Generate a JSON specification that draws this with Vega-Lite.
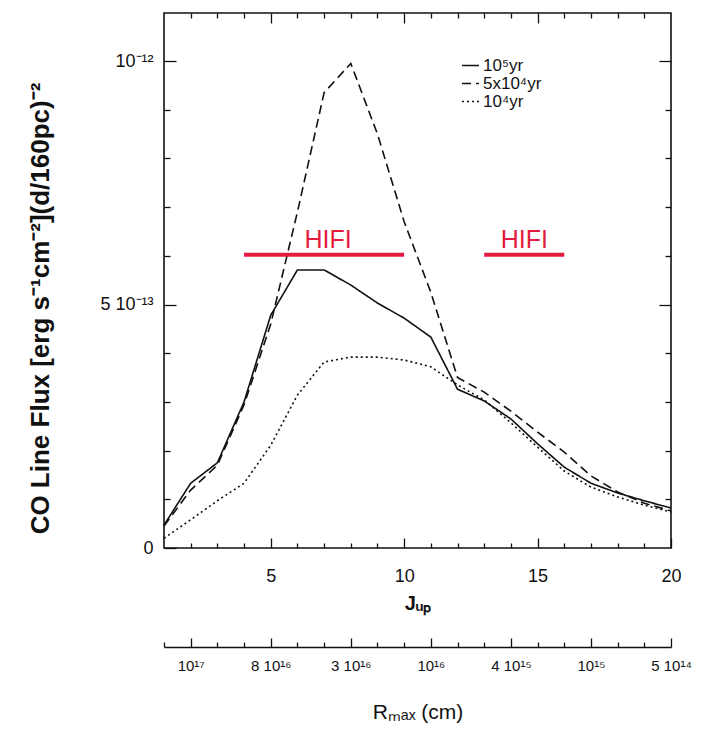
{
  "$schema": "https://vega.github.io/schema/vega-lite/v6.json",
  "width": 507,
  "height": 535,
  "autosize": "none",
  "padding": {"left": 164, "top": 13, "right": 35, "bottom": 181},
  "background": "white",
  "config": {
    "view": {"stroke": "#111", "strokeWidth": 1.6},
    "font": "Liberation Sans",
    "axis": {
      "labelFont": "Liberation Sans",
      "titleFont": "Liberation Sans",
      "labelColor": "#111",
      "titleColor": "#111",
      "tickColor": "#111",
      "tickWidth": 1.3,
      "domainColor": "#111",
      "grid": false,
      "labelOverlap": false,
      "labelFlush": false
    }
  },
  "datasets": {
    "curves": [
      {"J": 1, "flux": 4.7e-14, "model": "10⁵yr"},
      {"J": 2, "flux": 1.33e-13, "model": "10⁵yr"},
      {"J": 3, "flux": 1.75e-13, "model": "10⁵yr"},
      {"J": 4, "flux": 3.0e-13, "model": "10⁵yr"},
      {"J": 5, "flux": 4.78e-13, "model": "10⁵yr"},
      {"J": 6, "flux": 5.71e-13, "model": "10⁵yr"},
      {"J": 7, "flux": 5.71e-13, "model": "10⁵yr"},
      {"J": 8, "flux": 5.4e-13, "model": "10⁵yr"},
      {"J": 9, "flux": 5.03e-13, "model": "10⁵yr"},
      {"J": 10, "flux": 4.72e-13, "model": "10⁵yr"},
      {"J": 11, "flux": 4.33e-13, "model": "10⁵yr"},
      {"J": 12, "flux": 3.26e-13, "model": "10⁵yr"},
      {"J": 13, "flux": 3.02e-13, "model": "10⁵yr"},
      {"J": 14, "flux": 2.65e-13, "model": "10⁵yr"},
      {"J": 15, "flux": 2.14e-13, "model": "10⁵yr"},
      {"J": 16, "flux": 1.66e-13, "model": "10⁵yr"},
      {"J": 17, "flux": 1.33e-13, "model": "10⁵yr"},
      {"J": 18, "flux": 1.13e-13, "model": "10⁵yr"},
      {"J": 19, "flux": 9.7e-14, "model": "10⁵yr"},
      {"J": 20, "flux": 8.2e-14, "model": "10⁵yr"},
      {"J": 1, "flux": 4.5e-14, "model": "5x10⁴yr"},
      {"J": 2, "flux": 1.19e-13, "model": "5x10⁴yr"},
      {"J": 3, "flux": 1.7e-13, "model": "5x10⁴yr"},
      {"J": 4, "flux": 2.94e-13, "model": "5x10⁴yr"},
      {"J": 5, "flux": 4.6e-13, "model": "5x10⁴yr"},
      {"J": 6, "flux": 6.9e-13, "model": "5x10⁴yr"},
      {"J": 7, "flux": 9.35e-13, "model": "5x10⁴yr"},
      {"J": 8, "flux": 9.95e-13, "model": "5x10⁴yr"},
      {"J": 9, "flux": 8.5e-13, "model": "5x10⁴yr"},
      {"J": 10, "flux": 6.7e-13, "model": "5x10⁴yr"},
      {"J": 11, "flux": 5.25e-13, "model": "5x10⁴yr"},
      {"J": 12, "flux": 3.5e-13, "model": "5x10⁴yr"},
      {"J": 13, "flux": 3.2e-13, "model": "5x10⁴yr"},
      {"J": 14, "flux": 2.81e-13, "model": "5x10⁴yr"},
      {"J": 15, "flux": 2.38e-13, "model": "5x10⁴yr"},
      {"J": 16, "flux": 1.97e-13, "model": "5x10⁴yr"},
      {"J": 17, "flux": 1.48e-13, "model": "5x10⁴yr"},
      {"J": 18, "flux": 1.15e-13, "model": "5x10⁴yr"},
      {"J": 19, "flux": 9.2e-14, "model": "5x10⁴yr"},
      {"J": 20, "flux": 7.6e-14, "model": "5x10⁴yr"},
      {"J": 1, "flux": 2.0e-14, "model": "10⁴yr"},
      {"J": 2, "flux": 5.8e-14, "model": "10⁴yr"},
      {"J": 3, "flux": 9.7e-14, "model": "10⁴yr"},
      {"J": 4, "flux": 1.33e-13, "model": "10⁴yr"},
      {"J": 5, "flux": 2.11e-13, "model": "10⁴yr"},
      {"J": 6, "flux": 3.14e-13, "model": "10⁴yr"},
      {"J": 7, "flux": 3.82e-13, "model": "10⁴yr"},
      {"J": 8, "flux": 3.92e-13, "model": "10⁴yr"},
      {"J": 9, "flux": 3.92e-13, "model": "10⁴yr"},
      {"J": 10, "flux": 3.86e-13, "model": "10⁴yr"},
      {"J": 11, "flux": 3.72e-13, "model": "10⁴yr"},
      {"J": 12, "flux": 3.35e-13, "model": "10⁴yr"},
      {"J": 13, "flux": 3.04e-13, "model": "10⁴yr"},
      {"J": 14, "flux": 2.57e-13, "model": "10⁴yr"},
      {"J": 15, "flux": 2.07e-13, "model": "10⁴yr"},
      {"J": 16, "flux": 1.58e-13, "model": "10⁴yr"},
      {"J": 17, "flux": 1.25e-13, "model": "10⁴yr"},
      {"J": 18, "flux": 1.05e-13, "model": "10⁴yr"},
      {"J": 19, "flux": 8.8e-14, "model": "10⁴yr"},
      {"J": 20, "flux": 7.4e-14, "model": "10⁴yr"}
    ],
    "hifi_bars": [
      {"J": 4, "J_end": 10, "flux": 6.02e-13},
      {"J": 13, "J_end": 16, "flux": 6.02e-13}
    ],
    "hifi_labels": [
      {"J": 7.15, "flux": 6.02e-13, "label": "HIFI"},
      {"J": 14.5, "flux": 6.02e-13, "label": "HIFI"}
    ]
  },
  "layer": [
    {
      "encoding": {
        "x": {
          "field": "J", "type": "quantitative",
          "scale": {"domain": [1, 20], "nice": false, "zero": false},
          "axis": {
            "orient": "bottom",
            "values": [5, 10, 15, 20],
            "labelOverlap": false,
            "tickSize": -10,
            "labelPadding": 29,
            "labelFontSize": 18,
            "domain": false,
            "title": "Jᵤₚ",
            "titleFontSize": 20,
            "titleFontWeight": "bold",
            "titlePadding": 8
          }
        },
        "y": {
          "field": "flux", "type": "quantitative",
          "scale": {"domain": [0, 1.0986e-12], "nice": false, "zero": true},
          "axis": {
            "orient": "left",
            "values": [0, 5e-13, 1e-12],
            "labelExpr": "datum.value === 0 ? '0' : (datum.value < 7e-13 ? '5 10⁻¹³' : '10⁻¹²')",
            "labelOverlap": false,
            "tickSize": -12,
            "labelPadding": 23,
            "labelFontSize": 18,
            "domain": false,
            "title": "CO Line Flux [erg s⁻¹cm⁻²](d/160pc)⁻²",
            "titleFontSize": 26,
            "titleFontWeight": "bold",
            "titlePadding": 46,
            "titleY": 295
          }
        }
      },
      "layer": [
        {
          "data": {"name": "curves"},
          "mark": {"type": "line", "color": "#111", "strokeWidth": 1.6},
          "encoding": {
            "strokeDash": {
              "field": "model", "type": "nominal",
              "scale": {"domain": ["10⁵yr", "5x10⁴yr", "10⁴yr"], "range": [[1, 0], [9, 5], [2, 3]]},
              "legend": {
                "title": null,
                "orient": "none",
                "legendX": 297,
                "legendY": 43,
                "symbolType": "stroke",
                "symbolSize": 289,
                "symbolStrokeWidth": 1.6,
                "symbolStrokeColor": "#111",
                "labelFontSize": 17,
                "labelColor": "#111",
                "labelOffset": 3,
                "rowPadding": -2
              }
            }
          }
        },
        {
          "data": {"name": "hifi_bars"},
          "mark": {"type": "rule", "color": "#e31b3f", "strokeWidth": 4},
          "encoding": {
            "x2": {"field": "J_end"}
          }
        },
        {
          "data": {"name": "hifi_labels"},
          "mark": {"type": "text", "color": "#e31b3f", "fontSize": 25, "font": "Liberation Sans", "align": "center", "baseline": "alphabetic", "dy": -7},
          "encoding": {
            "text": {"field": "label"}
          }
        }
      ]
    },
    {
      "data": {"name": "curves"},
      "mark": {"type": "point", "opacity": 0},
      "encoding": {
        "x": {
          "field": "J", "type": "quantitative",
          "scale": {"domain": [1, 20], "nice": false, "zero": false},
          "axis": {"orient": "top", "values": [5, 10, 15], "labels": false, "tickSize": -10, "domain": false, "title": null}
        },
        "y": {
          "field": "flux", "type": "quantitative",
          "scale": {"domain": [0, 1.0986e-12], "nice": false, "zero": true},
          "axis": {"orient": "right", "values": [5e-13, 1e-12], "labels": false, "tickSize": -12, "domain": false, "title": null}
        }
      }
    },
    {
      "data": {"name": "curves"},
      "mark": {"type": "point", "opacity": 0},
      "encoding": {
        "x": {
          "field": "J", "type": "quantitative",
          "scale": {"domain": [1, 20], "nice": false, "zero": false},
          "axis": {"orient": "bottom", "values": [2, 3, 4, 6, 7, 8, 9, 11, 12, 13, 14, 16, 17, 18, 19], "labels": false, "tickSize": -5, "domain": false, "title": null}
        },
        "y": {
          "field": "flux", "type": "quantitative",
          "scale": {"domain": [0, 1.0986e-12], "nice": false, "zero": true},
          "axis": {"orient": "left", "values": [1e-13, 2e-13, 3e-13, 4e-13, 6e-13, 7e-13, 8e-13, 9e-13], "labels": false, "tickSize": -6, "domain": false, "title": null}
        }
      }
    },
    {
      "data": {"name": "curves"},
      "mark": {"type": "point", "opacity": 0},
      "encoding": {
        "x": {
          "field": "J", "type": "quantitative",
          "scale": {"domain": [1, 20], "nice": false, "zero": false},
          "axis": {"orient": "top", "values": [2, 3, 4, 6, 7, 8, 9, 11, 12, 13, 14, 16, 17, 18, 19], "labels": false, "tickSize": -5, "domain": false, "title": null}
        },
        "y": {
          "field": "flux", "type": "quantitative",
          "scale": {"domain": [0, 1.0986e-12], "nice": false, "zero": true},
          "axis": {"orient": "right", "values": [1e-13, 2e-13, 3e-13, 4e-13, 6e-13, 7e-13, 8e-13, 9e-13], "labels": false, "tickSize": -6, "domain": false, "title": null}
        }
      }
    },
    {
      "data": {"name": "curves"},
      "mark": {"type": "point", "opacity": 0},
      "encoding": {
        "x": {
          "field": "J", "type": "quantitative",
          "scale": {"domain": [1, 20], "nice": false, "zero": false},
          "axis": {
            "orient": "bottom",
            "offset": 99,
            "values": [2, 5, 8, 11, 14, 17, 20],
            "labelExpr": "datum.value === 2 ? '10¹⁷' : datum.value === 5 ? '8 10¹⁶' : datum.value === 8 ? '3 10¹⁶' : datum.value === 11 ? '10¹⁶' : datum.value === 14 ? '4 10¹⁵' : datum.value === 17 ? '10¹⁵' : '5 10¹⁴'",
            "labelOverlap": false,
            "tickSize": -9,
            "labelPadding": 20,
            "labelFontSize": 15,
            "domain": true,
            "domainWidth": 1.6,
            "title": "Rₘₐₓ (cm)",
            "titleFontSize": 21,
            "titleFontWeight": "normal",
            "titlePadding": 28
          }
        },
        "y": {
          "field": "flux", "type": "quantitative",
          "scale": {"domain": [0, 1.0986e-12], "nice": false, "zero": true},
          "axis": null
        }
      }
    },
    {
      "data": {"name": "curves"},
      "mark": {"type": "point", "opacity": 0},
      "encoding": {
        "x": {
          "field": "J", "type": "quantitative",
          "scale": {"domain": [1, 20], "nice": false, "zero": false},
          "axis": {
            "orient": "bottom",
            "offset": 99,
            "values": [1, 3, 4, 6, 7, 9, 10, 12, 13, 15, 16, 18, 19],
            "labels": false,
            "tickSize": -5,
            "domain": false,
            "title": null
          }
        },
        "y": {
          "field": "flux", "type": "quantitative",
          "scale": {"domain": [0, 1.0986e-12], "nice": false, "zero": true},
          "axis": null
        }
      }
    }
  ],
  "resolve": {
    "scale": {"x": "independent", "y": "independent"},
    "axis": {"x": "independent", "y": "independent"}
  }
}
